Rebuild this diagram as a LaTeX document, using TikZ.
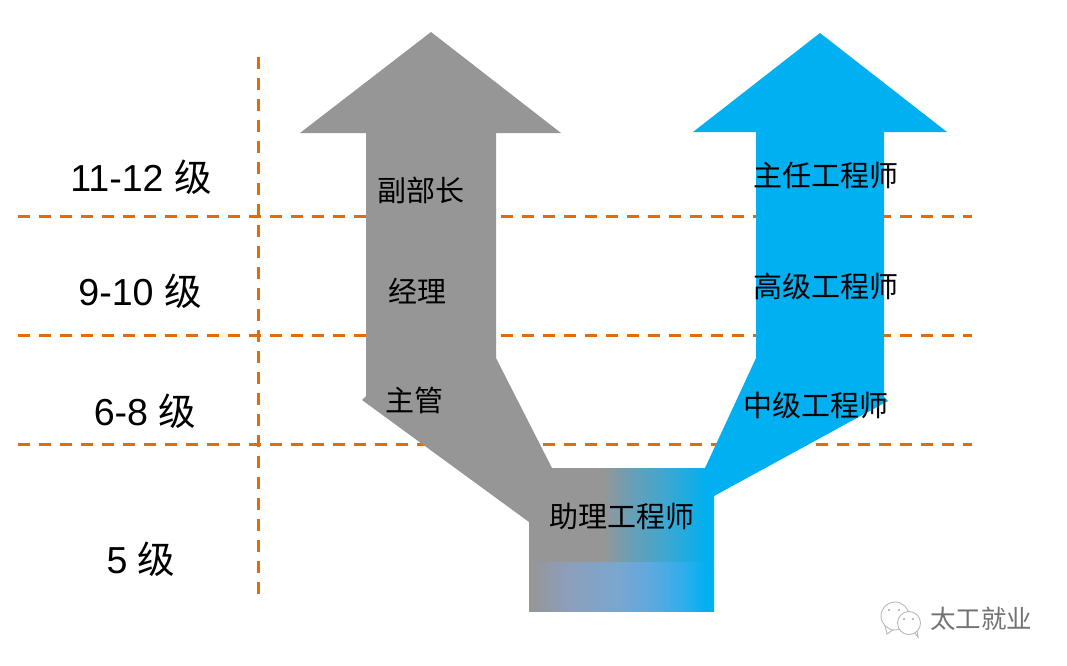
\documentclass[tikz,border=0pt]{standalone}
\usepackage{fontspec}
\setmainfont{Liberation Sans}
\newfontfamily\cjk{Noto Sans CJK SC}
\definecolor{dashc}{HTML}{E36C0A}
\definecolor{grayc}{HTML}{969696}
\definecolor{bluec}{HTML}{00B0F0}
\definecolor{lowa}{HTML}{8C9FBC}
\definecolor{lowb}{HTML}{7BA6CF}
\definecolor{lowc}{HTML}{5FA9DE}
\definecolor{lowd}{HTML}{30AEEB}
\definecolor{upmid}{HTML}{699FB5}
\definecolor{upend}{HTML}{3AA8D2}
\pgfdeclarehorizontalshading{upperband}{100bp}{
  color(0bp)=(grayc); color(45bp)=(grayc); color(52.5bp)=(upmid); color(62.5bp)=(upend);
  color(73bp)=(bluec); color(100bp)=(bluec)}
\pgfdeclarehorizontalshading{lowerband}{100bp}{
  color(0bp)=(grayc); color(25bp)=(grayc); color(36bp)=(lowa); color(49bp)=(lowb); color(57.5bp)=(lowc); color(66.5bp)=(lowd); color(73bp)=(bluec); color(100bp)=(bluec)}
\tikzset{
  guide/.style={draw=dashc,line width=3pt,dash pattern=on 12pt off 9pt},
  level/.style={font=\fontsize{37.6}{37.6}\selectfont,inner sep=0pt,text=black},
  role/.style={font=\cjk\fontsize{29}{29}\selectfont,inner sep=0pt,text=black},
  wmark/.style={font=\cjk\fontsize{25.5}{25.5}\selectfont,inner sep=0pt,text=black!55},
  bubble/.style={draw=black!28,line width=0.9pt,fill=white},
  eye/.style={circle,fill=black!35,minimum size=2.4pt,inner sep=0pt},
}
\begin{document}
\begin{tikzpicture}[x=1pt,y=-1pt]
\useasboundingbox (0,0) rectangle (1067,665);
\fill[white] (0,0) rectangle (1067,665);
% guides
\coordinate (h1a) at (18,216); \coordinate (h1b) at (972,216);
\coordinate (h2a) at (18,335); \coordinate (h2b) at (972,335);
\coordinate (h3a) at (18,444); \coordinate (h3b) at (972,444);
\coordinate (va) at (258,57); \coordinate (vb) at (258,596);
\draw[guide] (h1a)--(h1b);
\draw[guide] (h2a)--(h2b);
\draw[guide] (h3a)--(h3b);
\draw[guide] (va)--(vb);
% arrows
\fill[grayc] (431,32)--(561,133)--(496,133)--(496,358)--(552,468)--(603,468)--(603,562)--(529,562)--(529,522)--(362,400)--(366,396)--(366,133)--(300,133)--cycle;
\fill[bluec] (820,33)--(947,132)--(884,132)--(884,397)--(888,401)--(714,496)--(700,496)--(705,468)--(756,358)--(756,132)--(693,132)--cycle;
% base bands
\path[shading=upperband] (529,468) rectangle (714,562);
\path[shading=lowerband] (529,562) rectangle (714,611);
% labels
\node[level] (l1) at (141,177) {11-12 {\cjk 级}};
\node[level] (l2) at (140,291) {9-10 {\cjk 级}};
\node[level] (l3) at (145,411) {6-8 {\cjk 级}};
\node[level] (l4) at (141,559) {5 {\cjk 级}};
\node[role] (r1) at (421,190) {副部长};
\node[role] (r2) at (417,291) {经理};
\node[role] (r3) at (414,400) {主管};
\node[role] (r4) at (622,516) {助理工程师};
\node[role] (r5) at (826,175) {主任工程师};
\node[role] (r6) at (826,286) {高级工程师};
\node[role] (r7) at (816,405) {中级工程师};
% watermark
\node[wmark] (wm) at (981,619) {太工就业};
\draw[bubble] (885,626) -- (887,634) -- (895,628.5) -- cycle;
\node[bubble,circle,minimum size=28pt,inner sep=0pt] (b1) at (895,616) {};
\draw[bubble] (914,632) -- (918,637) -- (917,630) -- cycle;
\node[bubble,circle,minimum size=23pt,inner sep=0pt] (b2) at (909,623) {};
\node[eye] (e1) at (889,610) {};
\node[eye] (e2) at (899,610) {};
\node[eye] (e3) at (904,619) {};
\node[eye] (e4) at (913,619) {};
\end{tikzpicture}
\end{document}
